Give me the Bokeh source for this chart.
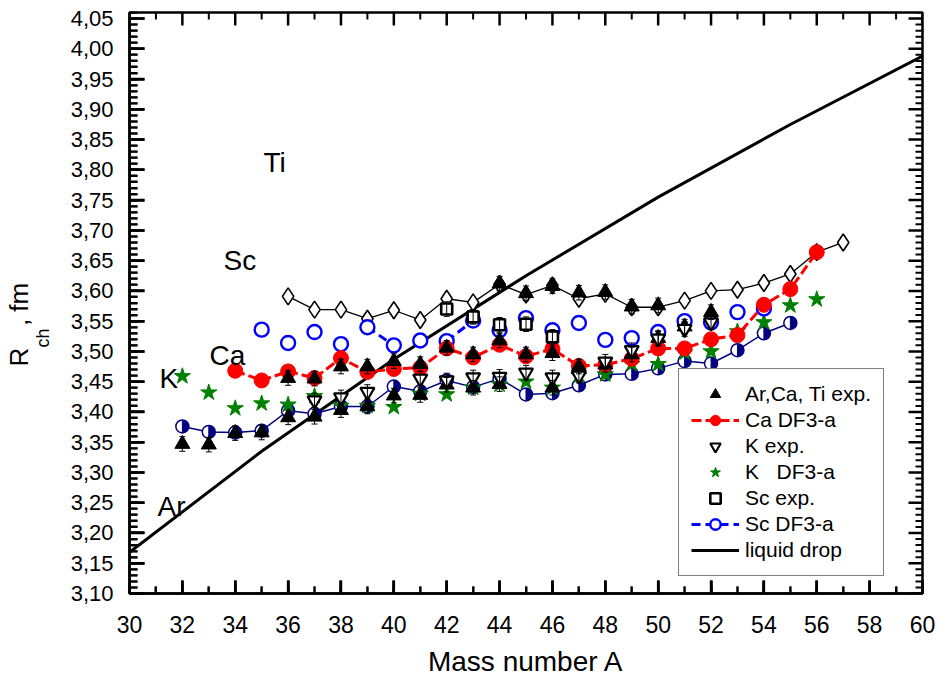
import math
from bokeh.plotting import figure
from bokeh.models import (SingleIntervalTicker, CustomJSTickFormatter, Label, Legend, LegendItem,
                          Range1d, Title)
from bokeh.embed import file_html
from bokeh.resources import INLINE

# ---------------- data ----------------
# experimental charge radii (filled triangles): Ar, Ca and Ti isotopes
ar_exp_A = [32, 33, 34, 35, 36, 37, 38, 39, 40, 41, 42, 43, 44, 46]
ar_exp_R = [3.347, 3.346, 3.365, 3.366, 3.391, 3.392, 3.403, 3.409, 3.427, 3.428, 3.445, 3.440, 3.446, 3.440]
ca_exp_A = [36, 37, 38, 39, 40, 41, 42, 43, 44, 45, 46, 47, 48, 49, 50, 51, 52]
ca_exp_R = [3.456, 3.455, 3.475, 3.475, 3.484, 3.479, 3.506, 3.495, 3.518, 3.495, 3.497, 3.475, 3.478,
            3.495, 3.522, 3.541, 3.565]
ti_exp_A = [44, 45, 46, 47, 48, 49, 50]
ti_exp_R = [3.612, 3.596, 3.608, 3.597, 3.598, 3.574, 3.576]

# K experiment (open inverted triangles)
k_exp_A = [37, 38, 39, 41, 42, 43, 44, 45, 46, 47, 48, 49, 50, 51, 52]
k_exp_R = [3.419, 3.424, 3.433, 3.455, 3.452, 3.457, 3.458, 3.465, 3.457, 3.460, 3.483, 3.502, 3.521, 3.537, 3.548]

# Sc experiment (open squares)
sc_exp_A = [42, 43, 44, 45, 46]
sc_exp_R = [3.570, 3.557, 3.544, 3.545, 3.524]

exp_err = 0.012  # half length of the error bars

# Ca DF3-a (red filled circles, dashed)
ca_df3_A = list(range(34, 57))
ca_df3_R = [3.468, 3.452, 3.467, 3.456, 3.489, 3.466, 3.471, 3.473, 3.505, 3.490, 3.511, 3.492, 3.504,
            3.476, 3.478, 3.488, 3.505, 3.505, 3.520, 3.527, 3.577, 3.603, 3.664]

# K DF3-a (green stars)
k_df3_A = list(range(32, 57))
k_df3_R = [3.459, 3.432, 3.406, 3.414, 3.412, 3.426, 3.410, 3.410, 3.408, 3.430, 3.429, 3.440, 3.445,
           3.450, 3.440, 3.460, 3.462, 3.479, 3.479, 3.498, 3.500, 3.533, 3.548, 3.576, 3.586]

# Sc DF3-a (blue open circles), joined by a dashed line only on some segments
sc_df3_A = list(range(35, 55))
sc_df3_R = [3.536, 3.514, 3.532, 3.512, 3.540, 3.510, 3.518, 3.517, 3.551, 3.535, 3.555, 3.535, 3.547,
            3.519, 3.522, 3.532, 3.550, 3.548, 3.565, 3.571]
sc_df3_joined = [(39, 40), (42, 43)]

# Ti DF3-a (open diamonds, solid thin black line)
ti_df3_A = list(range(36, 58))
ti_df3_R = [3.591, 3.569, 3.569, 3.554, 3.568, 3.552, 3.587, 3.581, 3.611, 3.594, 3.609, 3.587, 3.595,
            3.573, 3.573, 3.584, 3.600, 3.602, 3.613, 3.628, 3.664, 3.680]

# Ar DF3-a (navy half-filled circles, solid line)
ar_df3_A = list(range(32, 56))
ar_df3_R = [3.376, 3.367, 3.366, 3.369, 3.402, 3.397, 3.409, 3.409, 3.442, 3.434, 3.452, 3.441, 3.455,
            3.429, 3.431, 3.444, 3.462, 3.463, 3.472, 3.484, 3.480, 3.502, 3.530, 3.547]

# liquid drop
ld_A = [30, 35, 40, 45, 50, 55, 60]
ld_R = [3.168, 3.335, 3.487, 3.625, 3.755, 3.875, 3.988]

# ticks
x_major_ticks = list(range(30, 61, 2))
x_minor_ticks = list(range(31, 60, 2))
y_major_ticks = [round(3.10 + 0.05 * i, 2) for i in range(20)]
y_minor_ticks = [round(3.10 + 0.01 * i, 2) for i in range(97) if i % 5 != 0]

# ---------------- layout constants ----------------
FONT = "Liberation Sans"
W, H = 939, 681
L, R, T, B = 129, 17, 12, 88
XMIN, XMAX, YMIN, YMAX = 30, 60, 3.10, 4.06
XPX = (XMAX - XMIN) / (W - L - R)   # data units per pixel
YPX = (YMAX - YMIN) / (H - T - B)
NB = "\u00a0"


def dx(px):
    return XMIN + (px - L) * XPX


def dy(py):
    return YMIN + (H - B - py) * YPX


p = figure(width=W, height=H, x_range=Range1d(XMIN, XMAX), y_range=Range1d(YMIN, YMAX),
           output_backend="svg", toolbar_location=None, title=None,
           min_border_left=L, min_border_right=R, min_border_top=T, min_border_bottom=B)
p.xgrid.visible = False
p.ygrid.visible = False
p.outline_line_color = "black"
p.outline_line_width = 2.5

xa = p.xaxis[0]
xa.ticker = SingleIntervalTicker(interval=2, num_minor_ticks=2)
xa.formatter = CustomJSTickFormatter(code="return Math.round(tick).toString();")
ya = p.yaxis[0]
ya.ticker = SingleIntervalTicker(interval=0.05, num_minor_ticks=5)
ya.formatter = CustomJSTickFormatter(code="return tick.toFixed(2).replace('.', ',');")
for ax in (xa, ya):
    ax.axis_line_color = "black"
    ax.axis_line_width = 2.5
    ax.major_tick_line_color = "black"
    ax.minor_tick_line_color = "black"
    ax.major_tick_line_width = 2.5
    ax.minor_tick_line_width = 2
    ax.major_tick_out = 0
    ax.minor_tick_out = 0
    ax.major_label_text_font = FONT
    ax.major_label_text_color = "black"
xa.major_tick_in = 13
xa.minor_tick_in = 7
ya.major_tick_in = 15
ya.minor_tick_in = 8
xa.major_label_text_font_size = "23px"
xa.major_label_standoff = 22
xa.axis_label = "Mass number A"
xa.axis_label_text_font = FONT
xa.axis_label_text_font_size = "28px"
xa.axis_label_text_font_style = "normal"
xa.axis_label_text_color = "black"
xa.axis_label_standoff = 10
ya.major_label_text_font_size = "22px"
ya.major_label_standoff = 16
# y title R_ch, fm: subscript as the axis label, the rest as a title just outside it
ya.axis_label = "ch" + NB * 14
ya.axis_label_text_font = FONT
ya.axis_label_text_font_size = "18px"
ya.axis_label_text_font_style = "normal"
ya.axis_label_text_color = "black"
ya.axis_label_standoff = 15
p.add_layout(Title(text="R" + NB * 3 + ", fm" + NB * 6, align="center", text_font=FONT,
                   text_font_size="26px", text_font_style="normal", text_color="black", standoff=-9), "left")

# inward ticks on all four sides, drawn as dash markers centred on the frame edges
TK = dict(marker="dash", line_color="black")
p.scatter(x_major_ticks, [YMIN] * len(x_major_ticks), size=26, angle=math.pi / 2, line_width=2.5, **TK)
p.scatter(x_minor_ticks, [YMIN] * len(x_minor_ticks), size=14, angle=math.pi / 2, line_width=2, **TK)
p.scatter(x_major_ticks, [YMAX] * len(x_major_ticks), size=26, angle=math.pi / 2, line_width=2.5, **TK)
p.scatter(x_minor_ticks, [YMAX] * len(x_minor_ticks), size=14, angle=math.pi / 2, line_width=2, **TK)
p.scatter([XMIN] * len(y_major_ticks), y_major_ticks, size=30, angle=0, line_width=2.5, **TK)
p.scatter([XMIN] * len(y_minor_ticks), y_minor_ticks, size=16, angle=0, line_width=2, **TK)
p.scatter([XMAX] * len(y_major_ticks), y_major_ticks, size=28, angle=0, line_width=2.5, **TK)
p.scatter([XMAX] * len(y_minor_ticks), y_minor_ticks, size=14, angle=0, line_width=2, **TK)

# liquid drop
ld_r = p.line(ld_A, ld_R, line_color="black", line_width=3)

# Ti DF3-a diamonds
p.line(ti_df3_A, ti_df3_R, line_color="black", line_width=1.3)
p.scatter(ti_df3_A, ti_df3_R, marker="diamond", size=17, fill_color="white", line_color="black", line_width=1.6)

# Ar DF3-a half filled navy circles
NAVY = "#000080"
p.line(ar_df3_A, ar_df3_R, line_color=NAVY, line_width=1.5)
p.scatter(ar_df3_A, ar_df3_R, marker="circle", size=13, fill_color="white", line_color=NAVY, line_width=1.5)
p.wedge(ar_df3_A, ar_df3_R, radius=6, radius_units="screen", start_angle=-math.pi / 2,
        end_angle=math.pi / 2, fill_color=NAVY, line_color=NAVY, line_width=1)

# K DF3-a green stars
GREEN = "#008000"
k_df3_r = p.scatter(k_df3_A, k_df3_R, marker="star", size=17, fill_color=GREEN, line_color=GREEN)
k_leg_line = p.line([], [], line_color=GREEN, line_width=3, line_dash="8 4")

# Sc DF3-a blue open circles
BLUE = "#0000FF"
sc_lookup = dict(zip(sc_df3_A, sc_df3_R))
sc_line_x, sc_line_y = [], []
for a0, a1 in sc_df3_joined:
    sc_line_x += [a0, a1, float("nan")]
    sc_line_y += [sc_lookup[a0], sc_lookup[a1], float("nan")]
sc_line_r = p.line(sc_line_x, sc_line_y, line_color=BLUE, line_width=3, line_dash="9 5")
sc_df3_r = p.scatter(sc_df3_A, sc_df3_R, marker="circle", size=14, fill_color="white", line_color=BLUE,
                     line_width=2.4)

# Ca DF3-a red
RED = "#FF0000"
ca_line_r = p.line(ca_df3_A, ca_df3_R, line_color=RED, line_width=3, line_dash="10 4")
ca_df3_r = p.scatter(ca_df3_A, ca_df3_R, marker="circle", size=15, fill_color=RED, line_color=RED)

# experiments
tri_A = ar_exp_A + ca_exp_A + ti_exp_A
tri_R = ar_exp_R + ca_exp_R + ti_exp_R
tri_r = p.scatter(tri_A, tri_R, marker="triangle", size=15, fill_color="black", line_color="black")
k_exp_r = p.scatter(k_exp_A, k_exp_R, marker="inverted_triangle", size=14, fill_color="white",
                    line_color="black", line_width=2.2)
sc_exp_r = p.scatter(sc_exp_A, sc_exp_R, marker="square", size=11, fill_color="white",
                     line_color="black", line_width=2.6)

# error bars (vertical bars with short caps)
err_x = tri_A + k_exp_A + sc_exp_A
err_y = tri_R + k_exp_R + sc_exp_R
err_lo = [v - exp_err for v in err_y]
err_hi = [v + exp_err for v in err_y]
p.segment(x0=err_x, y0=err_lo, x1=err_x, y1=err_hi, line_color="black", line_width=1)
p.scatter(err_x + err_x, err_lo + err_hi, marker="dash", size=6, line_color="black", line_width=1)

# element labels
for txt, px, py in [("Ti", 263, 162), ("Sc", 223, 260), ("Ca", 209, 355), ("K", 159, 378), ("Ar", 157, 506)]:
    p.add_layout(Label(x=dx(px), y=dy(py), text=txt, text_font=FONT, text_font_size="28px",
                       text_color="black", text_align="left", text_baseline="alphabetic"))

# legend
legend = Legend(items=[
    LegendItem(label="Ar,Ca, Ti exp.", renderers=[tri_r]),
    LegendItem(label="Ca DF3-a", renderers=[ca_line_r, ca_df3_r]),
    LegendItem(label="K exp.", renderers=[k_exp_r]),
    LegendItem(label="K   DF3-a", renderers=[k_leg_line, k_df3_r]),
    LegendItem(label="Sc exp.", renderers=[sc_exp_r]),
    LegendItem(label="Sc DF3-a", renderers=[sc_line_r, sc_df3_r]),
    LegendItem(label="liquid drop", renderers=[ld_r]),
], location=(549, 17))
legend.label_text_font = FONT
legend.label_text_font_size = "21px"
legend.label_text_color = "black"
legend.glyph_width = 48
legend.glyph_height = 26
legend.label_height = 26
legend.label_standoff = 6
legend.spacing = 0
legend.padding = 12
legend.margin = 0
legend.border_line_color = "black"
legend.border_line_width = 1.5
legend.background_fill_color = "white"
legend.background_fill_alpha = 1
p.add_layout(legend)

open("out.html", "w").write(file_html(p, INLINE))
